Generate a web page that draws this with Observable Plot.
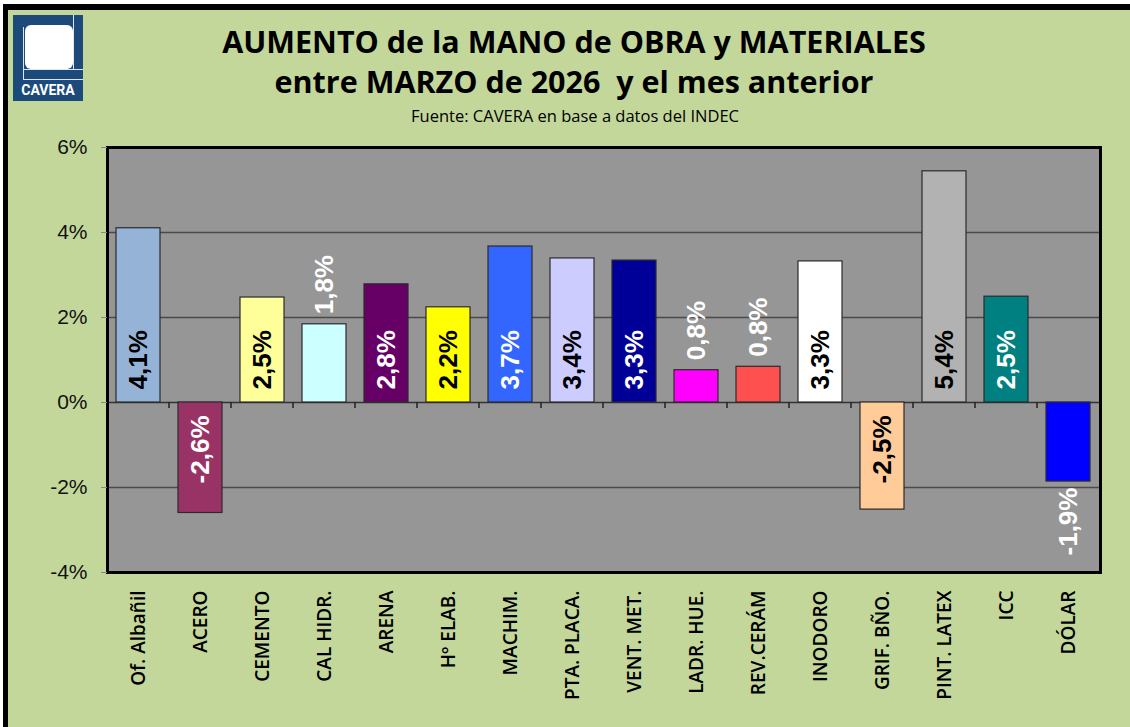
<!DOCTYPE html>
<html>
<head>
<meta charset="utf-8">
<script src="https://cdn.jsdelivr.net/npm/d3@7"></script>
<script src="https://cdn.jsdelivr.net/npm/@observablehq/plot@0.6"></script>
<style>
  html, body { margin: 0; padding: 0; background: #ffffff; }
  #page { position: relative; width: 1130px; height: 727px; overflow: hidden; background: #ffffff; }
  #bg { position: absolute; left: 3px; top: 4px; right: 0; bottom: 0; background: #C4D79B;
        border-top: 6px solid #000; border-left: 5px solid #000; }
  #title { position: absolute; left: 0; width: 1148px; top: 21px; text-align: center;
           font-family: "Open Sans", sans-serif; font-weight: 700; font-size: 30.5px; line-height: 40px; color: #000; }
  #subtitle { position: absolute; left: 0; width: 1150px; top: 104px; text-align: center;
           font-family: "Open Sans", sans-serif; font-size: 16.5px; color: #000; }
  #logo { position: absolute; left: 13px; top: 15px; width: 70px; height: 86px; background: #1B4A7B; }
  #logo .sq { position: absolute; left: 12px; top: 10px; width: 48px; height: 44px; background: #fff; border-radius: 6px; }
  #logo .v1 { position: absolute; left: 10px; top: 12px; width: 1px; height: 53px; background: #dfe6ee; }
  #logo .v2 { position: absolute; left: 60px; top: 0px; width: 1px; height: 54px; background: #dfe6ee; }
  #logo .h1 { position: absolute; left: 10px; top: 54px; width: 60px; height: 1px; background: #dfe6ee; }
  #logo .h2 { position: absolute; left: 10px; top: 64px; width: 60px; height: 1px; background: #dfe6ee; }
  #logo .txt { position: absolute; left: 0; width: 70px; top: 67px; text-align: center; color: #fff;
               font-family: "Liberation Sans Narrow", "Roboto", sans-serif; font-weight: 700; font-size: 14px; letter-spacing: 0px; }
  #chart { position: absolute; left: 0; top: 130px; }
</style>
</head>
<body>
<div id="page">
  <div id="bg"></div>
  <div id="logo"><div class="sq"></div><div class="v1"></div><div class="v2"></div><div class="h1"></div><div class="h2"></div><div class="txt">CAVERA</div></div>
  <div id="title">AUMENTO de la MANO de OBRA y MATERIALES<br>entre MARZO de 2026&nbsp; y el mes anterior</div>
  <div id="subtitle">Fuente: CAVERA en base a datos del INDEC</div>
  <div id="chart"></div>
</div>
<script>
// ---- data ----
const categories = ["Of. Albañil", "ACERO", "CEMENTO", "CAL HIDR.", "ARENA", "Hº ELAB.", "MACHIM.", "PTA. PLACA.",
  "VENT. MET.", "LADR. HUE.", "REV.CERÁM", "INODORO", "GRIF. BÑO.", "PINT. LATEX", "ICC", "DÓLAR"];
const values = [4.1, -2.6, 2.47, 1.84, 2.78, 2.24, 3.67, 3.39, 3.34, 0.76, 0.84, 3.32, -2.52, 5.44, 2.49, -1.86];
const yTicks = [-4, -2, 0, 2, 4, 6];

// ---- styles ----
const barColors = ["#95B3D7", "#993366", "#FFFF99", "#CCFFFF", "#660066", "#FFFF00", "#3366FF", "#CCCCFF",
  "#000099", "#FF00FF", "#FF5050", "#FFFFFF", "#FFCC99", "#B2B2B2", "#008080", "#0000FF"];

const rows = categories.map((c, i) => ({
  cat: c, v: values[i], color: barColors[i],
  label: values[i].toFixed(1).replace(".", ",") + "%",
  inside: Math.abs(values[i]) >= 2,
  textColor: d3.lab(barColors[i]).l > 60 ? "#000" : "#fff"
}));

const W = 1130, H = 597;
const mL = 107, mR = 30, mT = 17, mB = 155;

// category boundary ticks on the zero line
function zeroTicks(index, scales) {
  const x = scales.x, y = scales.y;
  const g = d3.create("svg:g");
  const step = x.step ? x.step() : (W - mL - mR) / categories.length;
  const bw = x.bandwidth ? x.bandwidth() : step * 0.71;
  const y0 = y(0);
  categories.slice(1).forEach(c => {
    const bx = x(c) - (step - bw) / 2;
    g.append("line").attr("x1", bx).attr("x2", bx).attr("y1", y0).attr("y2", y0 + 6)
      .attr("stroke", "#222").attr("stroke-width", 1.5);
  });
  return g.node();
}

const labelFont = "Liberation Sans, Arial, sans-serif";

const chart = Plot.plot({
  width: W, height: H,
  marginLeft: mL, marginRight: mR, marginTop: mT, marginBottom: mB,
  style: { background: "transparent", overflow: "visible" },
  x: { domain: categories, paddingInner: 0.29, paddingOuter: 0.145, label: null },
  y: { domain: [-4, 6], label: null },
  marks: [
    Plot.frame({ fill: "#969696", stroke: null }),
    Plot.ruleY([-2, 2, 4], { stroke: "#4a4a4a", strokeWidth: 1.5 }),
    Plot.ruleY([0], { stroke: "#333", strokeWidth: 1.5 }),
    zeroTicks,
    Plot.barY(rows, { x: "cat", y: "v", fill: "color", stroke: "#2a2a2a", strokeWidth: 1.2 }),
    // labels inside bars, at the base
    Plot.text(rows.filter(d => d.inside && d.v > 0), { x: "cat", y: 0, text: "label", rotate: -90, dy: -13,
      textAnchor: "start", lineAnchor: "middle", fill: "textColor", fontSize: 26, fontWeight: 700, fontFamily: labelFont }),
    Plot.text(rows.filter(d => d.inside && d.v < 0), { x: "cat", y: 0, text: "label", rotate: -90, dy: 13,
      textAnchor: "end", lineAnchor: "middle", fill: "textColor", fontSize: 26, fontWeight: 700, fontFamily: labelFont }),
    // labels outside small bars
    Plot.text(rows.filter(d => !d.inside && d.v > 0), { x: "cat", y: "v", text: "label", rotate: -90, dy: -10,
      textAnchor: "start", lineAnchor: "middle", fill: "#fff", fontSize: 26, fontWeight: 700, fontFamily: labelFont }),
    Plot.text(rows.filter(d => !d.inside && d.v < 0), { x: "cat", y: "v", text: "label", rotate: -90, dy: 6,
      textAnchor: "end", lineAnchor: "middle", fill: "#fff", fontSize: 26, fontWeight: 700, fontFamily: labelFont }),
    Plot.frame({ stroke: "#000", strokeWidth: 3 }),
    Plot.axisY({ ticks: yTicks, tickFormat: d => d + "%", tickSize: 6, tickPadding: 14, stroke: "#888",
      fontSize: 21, fontFamily: labelFont, color: "#111" }),
    Plot.axisX({ tickSize: 0, tickPadding: 18, tickRotate: -90, fontSize: 19, fontWeight: 600,
      fontFamily: "Open Sans, sans-serif", color: "#000" })
  ]
});
document.getElementById("chart").appendChild(chart);
</script>
</body>
</html>
